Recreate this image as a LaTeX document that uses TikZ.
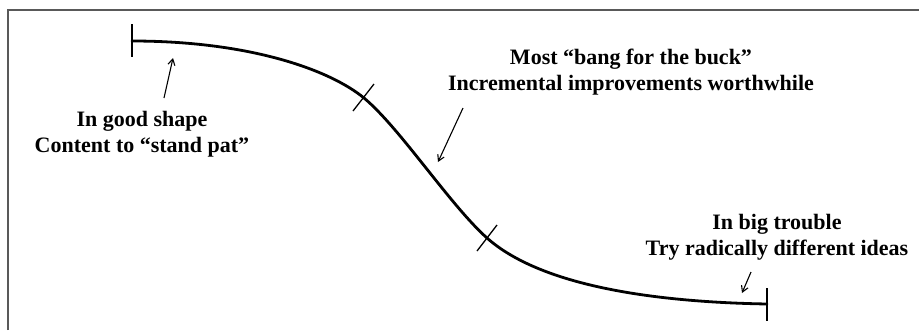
\documentclass[tikz,border=0pt]{standalone}
\usepackage{fontspec}
\setmainfont{Liberation Serif}
\usetikzlibrary{arrows.meta}
\begin{document}
\begin{tikzpicture}[x=1pt,y=-1pt,
  frame/.style={draw=black!65,line width=1.3pt},
  curve/.style={line width=2.8pt,line cap=round},
  tickmark/.style={line width=1.3pt},
  pointer/.style={line width=1.1pt,-{Straight Barb[length=6pt,width=7pt]}},
  lbl/.style={font=\bfseries\fontsize{22}{26.5}\selectfont,align=center,inner sep=0pt}]
\useasboundingbox (0,0) rectangle (919,330);
% frame
\coordinate (fb) at (8,330);
\coordinate (fc) at (8,10);
\coordinate (fr) at (919,10);
\draw[frame] (fb) -- (fc) -- (fr);
% curve
\coordinate (s) at (132,41);
\coordinate (m1) at (364,98);
\coordinate (m2) at (487,238);
\coordinate (e) at (767,304);
\draw[curve] (s) .. controls (250,41) and (330,70) .. (m1)
  .. controls (400,128) and (450,205) .. (m2)
  .. controls (540,285) and (650,302) .. (e);
% ticks
\coordinate (s1) at (132,24); \coordinate (s2) at (132,57);
\coordinate (e1) at (767,288); \coordinate (e2) at (767,321);
\coordinate (a1) at (353,111); \coordinate (a2) at (374,84);
\coordinate (b1) at (477,251); \coordinate (b2) at (497,225);
\draw[tickmark] (s1) -- (s2);
\draw[tickmark] (e1) -- (e2);
\draw[tickmark] (a1) -- (a2);
\draw[tickmark] (b1) -- (b2);
% labels
\node[lbl] (good) at (142,134) {In good shape\\Content to “stand pat”};
\node[lbl] (mid) at (631,72) {Most “bang for the buck”\\Incremental improvements worthwhile};
\node[lbl] (bad) at (777,237) {In big trouble\\Try radically different ideas};
% arrows
\coordinate (g1) at (164,98); \coordinate (g2) at (173,58);
\coordinate (k1) at (463,108); \coordinate (k2) at (438,162);
\coordinate (t1) at (751,272); \coordinate (t2) at (742,293);
\draw[pointer] (g1) -- (g2);
\draw[pointer] (k1) -- (k2);
\draw[pointer] (t1) -- (t2);
\end{tikzpicture}
\end{document}
